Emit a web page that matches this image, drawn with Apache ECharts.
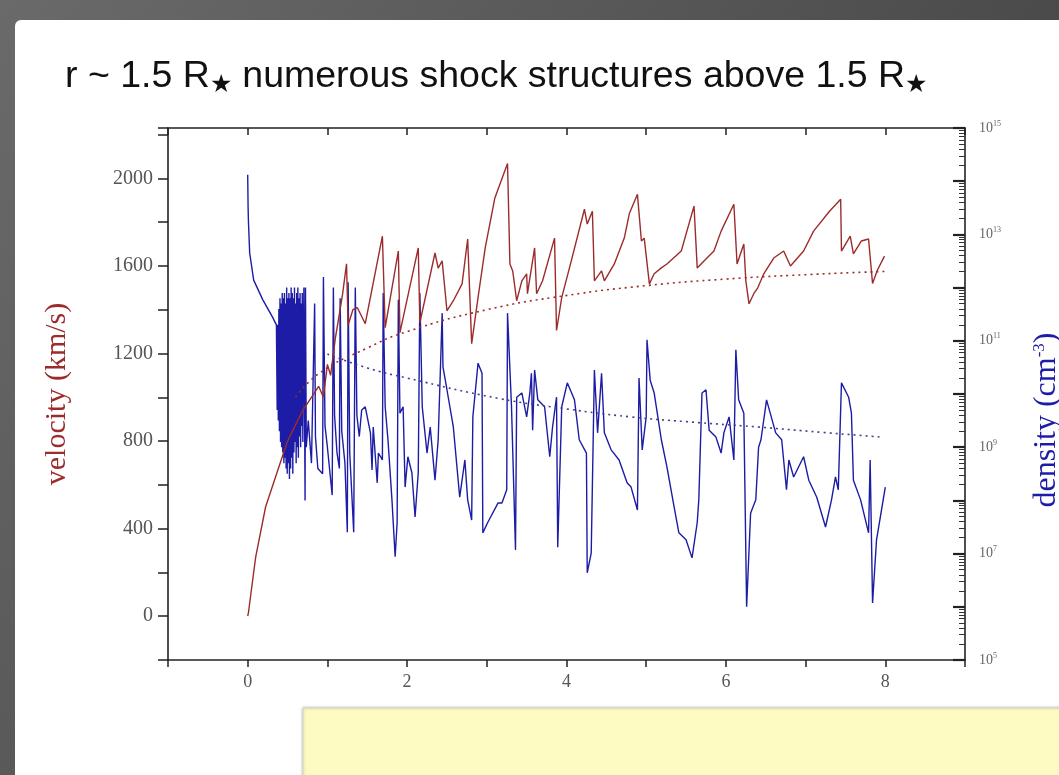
<!DOCTYPE html>
<html>
<head>
<meta charset="utf-8">
<script src="https://cdn.jsdelivr.net/npm/echarts@6/dist/echarts.min.js"></script>
<style>
  html, body { margin: 0; padding: 0; background: #4a4a4a; overflow: hidden; }
  #main { width: 1059px; height: 775px; }
</style>
</head>
<body>
<div id="main"></div>
<script>
// velocity (km/s), left axis
var velocityX = [0, 0.01, 0.1, 0.225, 0.39, 0.5, 0.69, 0.8, 0.89, 0.95, 1.0, 1.04, 1.1, 1.15, 1.19, 1.24, 1.26, 1.32, 1.375, 1.475,
  1.69, 1.725, 1.89, 1.91, 2.14, 2.16, 2.35, 2.39, 2.44, 2.5, 2.58, 2.69, 2.76, 2.81, 2.89, 2.98, 3.1, 3.26,
  3.29, 3.325, 3.375, 3.44, 3.5, 3.51, 3.6, 3.625, 3.7, 3.85, 3.875, 3.94, 4.06, 4.225, 4.26, 4.325, 4.35, 4.44, 4.475, 4.6,
  4.725, 4.79, 4.89, 4.94, 4.975, 5.04, 5.1, 5.19, 5.26, 5.44, 5.6, 5.64, 5.725, 5.85, 5.94, 6.1, 6.14, 6.225, 6.25, 6.29,
  6.35, 6.4, 6.475, 6.6, 6.725, 6.81, 6.975, 7.1, 7.3, 7.44, 7.45, 7.56, 7.6, 7.7, 7.79, 7.84, 7.9, 7.99];
var velocity = [0, 18, 270, 500, 680, 800, 940, 1000, 1050, 1000, 1150, 1100, 1270, 1380, 1470, 1610, 1330, 1400, 1410, 1336,
  1736, 1318, 1668, 1295, 1682, 1340, 1659, 1590, 1623, 1395, 1441, 1518, 1723, 1245, 1455, 1682, 1909, 2068,
  1609, 1577, 1441, 1532, 1564, 1473, 1682, 1473, 1532, 1727, 1305, 1455, 1623, 1859, 1791, 1850, 1532, 1577, 1532, 1609,
  1727, 1841, 1927, 1714, 1727, 1518, 1564, 1591, 1609, 1668, 1873, 1591, 1623, 1668, 1759, 1882, 1609, 1700, 1532, 1427,
  1473, 1500, 1564, 1636, 1668, 1600, 1668, 1759, 1850, 1905, 1668, 1736, 1655, 1714, 1723, 1520, 1580, 1645];

// density, right axis: stored as log10(n / cm^-3)
var densityX = [0, 0.005, 0.01, 0.025, 0.075, 0.19, 0.31, 0.36,
  0.370, 0.377, 0.384, 0.391, 0.398, 0.405, 0.412, 0.419, 0.426, 0.433, 0.440, 0.447, 0.454, 0.461, 0.468, 0.475,
  0.482, 0.489, 0.496, 0.503, 0.510, 0.517, 0.524, 0.531, 0.538, 0.545, 0.552, 0.559, 0.566, 0.573, 0.580, 0.587,
  0.594, 0.601, 0.608, 0.615, 0.622, 0.629, 0.636, 0.643, 0.650, 0.657, 0.664, 0.671, 0.678, 0.685, 0.692,
  0.705, 0.715, 0.72, 0.725, 0.735, 0.76, 0.8, 0.84, 0.85, 0.88, 0.94, 0.95, 0.97, 1.0, 1.06, 1.075, 1.09, 1.12, 1.15, 1.16,
  1.18, 1.22, 1.25, 1.26, 1.28, 1.33, 1.35, 1.37, 1.4, 1.43,
  1.475, 1.54, 1.56, 1.575, 1.625, 1.64, 1.69, 1.7, 1.725, 1.76, 1.81, 1.85, 1.875, 1.89, 1.91, 1.95, 1.975, 2.01,
  2.06, 2.1, 2.14, 2.16, 2.19, 2.25, 2.29, 2.35, 2.39, 2.44, 2.45, 2.5, 2.58, 2.66, 2.725, 2.76, 2.81, 2.825, 2.89,
  2.94, 2.95, 3.01, 3.14, 3.19, 3.25, 3.26, 3.31, 3.36, 3.375, 3.44, 3.5, 3.54, 3.56, 3.575, 3.6, 3.64, 3.725, 3.79,
  3.825, 3.875, 3.89, 3.94, 4.01, 4.1, 4.16, 4.25, 4.26, 4.31, 4.35, 4.39, 4.44, 4.475, 4.56, 4.66, 4.76,
  4.81, 4.89, 4.91, 4.95, 5.0, 5.01, 5.05, 5.1, 5.19, 5.26, 5.35, 5.41, 5.5, 5.575, 5.64, 5.66, 5.7, 5.75, 5.79,
  5.875, 5.94, 5.975, 6.04, 6.1, 6.125, 6.16, 6.225, 6.26, 6.31, 6.375, 6.41, 6.44, 6.51, 6.625, 6.7, 6.76, 6.79,
  6.85, 6.975, 7.04, 7.14, 7.25, 7.325, 7.375, 7.41, 7.45, 7.54, 7.575, 7.6, 7.69, 7.79, 7.81, 7.84, 7.89, 8.0];
var densityExp = [14.12, 13.5, 13.21, 12.65, 12.14, 11.77, 11.45, 11.3,
  9.7, 11.3, 9.5, 11.6, 9.3, 11.8, 9.1, 11.7, 9.0, 11.9, 8.9, 11.8, 8.7, 11.9, 8.8, 11.7,
  8.6, 12.0, 8.5, 11.8, 8.7, 11.9, 8.4, 11.8, 8.6, 12.0, 8.8, 11.9, 8.5, 11.8, 8.9, 12.0,
  9.1, 11.7, 8.7, 11.9, 9.0, 12.0, 8.8, 11.8, 9.2, 11.9, 9.0, 11.7, 9.4, 11.9, 9.1,
  12.0, 9.3, 8.0, 12.0, 9.0, 9.5, 8.7, 11.7, 9.2, 8.6, 8.5, 12.2, 9.4, 9.0, 8.1, 12.0, 9.6, 8.9, 8.6, 11.8,
  9.3, 8.7, 7.4, 12.1, 8.9, 7.4, 12.0, 9.6, 9.2, 9.7,
  9.76, 9.27, 8.57, 9.38, 8.33, 8.89, 8.76, 11.9, 9.76, 9.14, 8.01, 6.94, 7.58, 11.77, 9.64, 9.76, 8.25, 8.82,
  8.52, 7.69, 8.52, 11.9, 9.76, 8.89, 9.38, 8.38, 9.14, 11.52, 10.51, 10.08, 9.38, 8.06, 8.76, 8.01, 7.63, 9.57, 10.58,
  10.39, 7.39, 7.58, 7.95, 7.95, 8.2, 11.52, 9.76, 7.07, 9.94, 10.02, 9.57, 10.02, 10.39, 9.32, 10.45, 9.89, 9.76, 8.82,
  9.38, 9.94, 7.12, 9.76, 10.21, 9.89, 9.14, 8.89, 6.64, 7.01, 10.45, 9.27, 10.39, 9.27, 8.95, 8.76, 8.33,
  8.25, 7.82, 10.3, 8.95, 9.57, 11.02, 10.26, 10.02, 9.14, 8.63, 7.88, 7.39, 7.26, 6.92, 7.58, 8.01, 10.02, 10.08, 9.32,
  9.19, 8.89, 9.27, 9.57, 8.76, 10.83, 9.89, 9.64, 6.0, 7.76, 8.01, 9.0, 9.14, 9.89, 9.27, 9.14, 8.2, 8.76,
  8.44, 8.82, 8.38, 8.06, 7.5, 8.01, 8.44, 8.2, 10.21, 9.94, 9.64, 8.38, 8.01, 7.39, 8.76, 6.07, 7.26, 8.25];

// smooth wind model (dotted)
var velModelX = [0.6, 0.9, 1.5, 2, 3, 4, 5, 6, 7, 8];
var velModel = [1000, 1110, 1225, 1300, 1400, 1465, 1510, 1540, 1560, 1575];
var densModelX = [1.0, 1.5, 2, 3.14, 4, 4.8, 5.5, 6.4, 7.2, 7.95];
var densModelExp = [10.75, 10.49, 10.3, 9.92, 9.72, 9.57, 9.48, 9.38, 9.28, 9.19];

var xTicks = [0, 2, 4, 6, 8];
var velTicks = [0, 400, 800, 1200, 1600, 2000];
var densTickExp = [5, 7, 9, 11, 13, 15];

function pairs(xs, ys) {
  return xs.map(function (x, i) { return [x, ys[i]]; });
}
function logPairs(xs, es) {
  return xs.map(function (x, i) { return [x, Math.pow(10, es[i])]; });
}

var RED = '#9c2b2b';
var BLUE = '#1c1ca6';
var serif = 'Liberation Serif';

var chart = echarts.init(document.getElementById('main'));
chart.setOption({
  animation: false,
  backgroundColor: {
    type: 'linear', x: 0, y: 0, x2: 1, y2: 1,
    colorStops: [{ offset: 0, color: '#6a6a6a' }, { offset: 1, color: '#3a3a3a' }]
  },
  graphic: [
    { type: 'rect', shape: { x: 15, y: 20, width: 1100, height: 800, r: 6 }, style: { fill: '#ffffff' }, z: -10 },
    { type: 'rect', shape: { x: 303, y: 708, width: 800, height: 100 },
      style: { fill: '#fdfac2', stroke: '#d8d8c8', lineWidth: 1, shadowBlur: 3, shadowColor: 'rgba(0,0,0,0.25)' }, z: -5 }
  ],
  title: {
    text: 'r ~ 1.5 R{s|★} numerous shock structures above 1.5 R{s|★}',
    left: 60, top: 50,
    textStyle: {
      fontFamily: 'Liberation Sans', fontSize: 37.5, fontWeight: 'normal', color: '#111',
      rich: { s: { fontSize: 25, color: '#111', padding: [18, 0, 0, 0] } }
    }
  },
  grid: { left: 168, right: 94, top: 128, bottom: 115, outerBoundsMode: 'none', containLabel: false },
  xAxis: [{
    type: 'value', position: 'bottom', min: -1, max: 9, interval: 1,
    axisLine: { onZero: false, lineStyle: { color: '#222', width: 1.6 } },
    axisTick: { length: 7, lineStyle: { color: '#222', width: 1.5 } },
    axisLabel: {
      margin: 13, fontFamily: serif, fontSize: 18, color: '#555',
      formatter: function (v) { return xTicks.indexOf(v) >= 0 ? String(v) : ''; }
    },
    splitLine: { show: false }
  }, {
    type: 'value', position: 'top', min: -1, max: 9, interval: 1,
    axisLine: { onZero: false, lineStyle: { color: '#222', width: 1.6 } },
    axisTick: { inside: true, length: 7, lineStyle: { color: '#222', width: 1.5 } },
    axisLabel: { show: false },
    splitLine: { show: false }
  }],
  yAxis: [{
    type: 'value', position: 'left', min: -200, max: 2230, interval: 200,
    name: 'velocity (km/s)', nameLocation: 'middle', nameGap: 96, nameRotate: 90,
    nameTextStyle: { fontFamily: serif, fontSize: 30, color: RED },
    axisLine: { show: true, onZero: false, lineStyle: { color: '#222', width: 1.6 } },
    axisTick: { length: 10, lineStyle: { color: '#222', width: 1.5 } },
    axisLabel: {
      margin: 15, fontFamily: serif, fontSize: 20, color: '#555',
      formatter: function (v) { return velTicks.indexOf(v) >= 0 ? String(v) : ''; }
    },
    splitLine: { show: false }
  }, {
    type: 'log', logBase: 10, position: 'right', min: 1e5, max: 1e15, interval: 1,
    name: 'density (cm{sup|-3})', nameLocation: 'middle', nameGap: 66, nameRotate: 90,
    nameTextStyle: {
      fontFamily: serif, fontSize: 32, color: BLUE, padding: [0, 52, 0, 0],
      rich: { sup: { fontFamily: serif, fontSize: 17, color: BLUE, padding: [0, 0, 14, 0] } }
    },
    axisLine: { show: true, onZero: false, lineStyle: { color: '#222', width: 1.6 } },
    axisTick: { inside: true, length: 12, lineStyle: { color: '#222', width: 2.2 } },
    minorTick: { show: true, splitNumber: 9, length: 6, lineStyle: { color: '#333', width: 1 } },
    axisLabel: {
      margin: 14, fontFamily: serif, fontSize: 14, color: '#666',
      formatter: function (v) {
        var e = Math.round(Math.log10(v));
        return densTickExp.indexOf(e) >= 0 ? '10{e|' + e + '}' : '';
      },
      rich: { e: { fontFamily: serif, fontSize: 8, color: '#666', padding: [0, 0, 9, 0] } }
    },
    splitLine: { show: false }
  }],
  series: [{
    type: 'line', xAxisIndex: 0, yAxisIndex: 1, showSymbol: false,
    data: logPairs(densityX, densityExp),
    lineStyle: { color: BLUE, width: 1.4 }, z: 2
  }, {
    type: 'line', xAxisIndex: 0, yAxisIndex: 0, showSymbol: false,
    data: pairs(velocityX, velocity),
    lineStyle: { color: RED, width: 1.4 }, z: 3
  }, {
    type: 'line', xAxisIndex: 0, yAxisIndex: 0, showSymbol: false, smooth: true,
    data: pairs(velModelX, velModel),
    lineStyle: { color: RED, width: 1.6, type: [2, 4] }, z: 4
  }, {
    type: 'line', xAxisIndex: 0, yAxisIndex: 1, showSymbol: false, smooth: true,
    data: logPairs(densModelX, densModelExp),
    lineStyle: { color: '#4a3a8a', width: 1.6, type: [2, 4] }, z: 4
  }]
});
</script>
</body>
</html>
